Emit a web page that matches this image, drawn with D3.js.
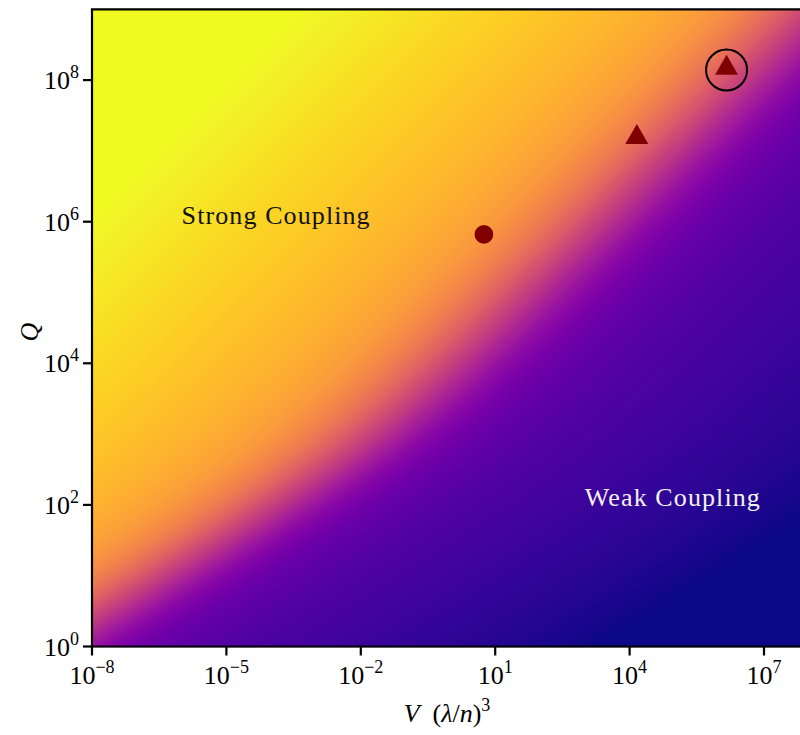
<!DOCTYPE html>
<html>
<head>
<meta charset="UTF-8">
<script src="https://d3js.org/d3.v7.min.js"></script>
<style>
  body { margin: 0; background: #fff; }
  svg text { font-family: "Liberation Serif", "DejaVu Serif", serif; }
</style>
</head>
<body>
<svg id="chart" width="800" height="735"></svg>
<script>
// tick values
const xTicks = [1e-8, 1e-5, 1e-2, 1e1, 1e4, 1e7];
const yTicks = [1e0, 1e2, 1e4, 1e6, 1e8];

// devices shown on the map
const pointV = [5.6, 1.45e4, 1.46e6];
const pointQ = [6.6e5, 1.55e7, 1.48e8];
const pointShape = ["circle", "triangle", "triangle"];
const pointHighlight = [false, false, true];

// labels of the two regions
const regionText = ["Strong Coupling", "Weak Coupling"];
const regionV = [1.0e-6, 1.0e3];
const regionQ = [1.25e6, 1.3e2];

const width = 800, height = 735;
const svg = d3.select("#chart");

const x = d3.scaleLog().domain([1e-8, 1e8]).range([92, 808.8]);
const y = d3.scaleLog().domain([1, 1e9]).range([646.5, 9.3]);

const color = d3.scaleSequential(d3.interpolatePlasma).domain([0, 1]);

// coupling map: contours bend (steeper at low Q), then squeezed into [0, 1]
function strength(v, q) {
  const lq = Math.log10(q), lv = Math.log10(v);
  const p = 1.6 * lq - 0.95 * 0.5 * Math.log(1 + Math.exp((2.8 - lq) / 0.5));
  const w = p - lv;
  const sig = 1 / (1 + Math.exp(-(w - 6.3) / 0.9));
  const lin = w < 6.3 ? 0.0162 * Math.max(0, w + 6) : 0.199 + 0.022 * (w - 6.3);
  return Math.max(0, Math.min(1, 0.55 * sig + lin));
}

// colour field, drawn on a canvas and put into the svg
const x0 = x.range()[0], x1 = x.range()[1];
const y0 = y.range()[1], y1 = y.range()[0];
const cw = Math.ceil(x1 - x0), ch = Math.ceil(y1 - y0);
const canvas = document.createElement("canvas");
canvas.width = cw; canvas.height = ch;
const ctx = canvas.getContext("2d");
const img = ctx.createImageData(cw, ch);
for (let j = 0; j < ch; j++) {
  const q = y.invert(y0 + j + 0.5);
  for (let i = 0; i < cw; i++) {
    const v = x.invert(x0 + i + 0.5);
    const c = d3.rgb(color(strength(v, q)));
    const k = (j * cw + i) * 4;
    img.data[k] = c.r; img.data[k + 1] = c.g; img.data[k + 2] = c.b; img.data[k + 3] = 255;
  }
}
ctx.putImageData(img, 0, 0);

svg.append("image")
  .attr("x", x0).attr("y", y0)
  .attr("width", cw).attr("height", ch)
  .attr("preserveAspectRatio", "none")
  .attr("href", canvas.toDataURL());

// region labels
svg.selectAll(".region")
  .data(regionText)
  .enter().append("text")
  .attr("class", "region")
  .attr("x", (d, i) => x(regionV[i]))
  .attr("y", (d, i) => y(regionQ[i]))
  .attr("dy", "0.35em")
  .attr("font-size", 26)
  .attr("letter-spacing", 1.1)
  .attr("fill", (d, i) => i === 0 ? "#111" : "#f2f2f2")
  .text(d => d);

// markers
const pts = pointV.map((v, i) => ({ v: v, q: pointQ[i], shape: pointShape[i], hi: pointHighlight[i] }));
const tri = d3.symbol().type(d3.symbolTriangle).size(230);

svg.selectAll(".pt")
  .data(pts)
  .enter().append("path")
  .attr("class", "pt")
  .attr("transform", d => `translate(${x(d.v)},${y(d.q)})`)
  .attr("d", d => d.shape === "circle" ? d3.symbol().type(d3.symbolCircle).size(275)() : tri())
  .attr("fill", "#800000");

svg.selectAll(".ring")
  .data(pts.filter(d => d.hi))
  .enter().append("circle")
  .attr("class", "ring")
  .attr("cx", d => x(d.v))
  .attr("cy", d => y(d.q) + 2)
  .attr("r", 20.5)
  .attr("fill", "none")
  .attr("stroke", "#000")
  .attr("stroke-width", 2);

// spines
svg.append("line").attr("x1", x0).attr("x2", x0).attr("y1", y0).attr("y2", y1)
  .attr("stroke", "#000").attr("stroke-width", 2.2);
svg.append("line").attr("x1", x0 - 1.1).attr("x2", width).attr("y1", y1).attr("y2", y1)
  .attr("stroke", "#000").attr("stroke-width", 2.2);
svg.append("line").attr("x1", x0 - 1.1).attr("x2", width).attr("y1", y0).attr("y2", y0)
  .attr("stroke", "#000").attr("stroke-width", 2.2);

// ticks with 10^n labels
function expOf(d) { return Math.round(Math.log10(d)); }

const xAxis = svg.append("g");
const xt = xAxis.selectAll("g").data(xTicks).enter().append("g")
  .attr("transform", d => `translate(${x(d)},${y1})`);
xt.append("line").attr("y1", 0).attr("y2", 9).attr("stroke", "#000").attr("stroke-width", 2.2);
const xl = xt.append("text").attr("y", 37).attr("text-anchor", "middle").attr("font-size", 26);
xl.append("tspan").text("10");
xl.append("tspan").attr("dy", -11).attr("font-size", 18)
  .text(d => String(expOf(d)).replace("-", "\u2212"));

const yAxis = svg.append("g");
const yt = yAxis.selectAll("g").data(yTicks).enter().append("g")
  .attr("transform", d => `translate(${x0},${y(d)})`);
yt.append("line").attr("x1", 0).attr("x2", -9).attr("stroke", "#000").attr("stroke-width", 2.2);
const yl = yt.append("text").attr("x", -13).attr("y", 9).attr("text-anchor", "end").attr("font-size", 26);
yl.append("tspan").text("10");
yl.append("tspan").attr("dy", -11).attr("font-size", 18).text(d => expOf(d));

// axis titles
const xTitle = svg.append("text").attr("x", 447).attr("y", 722)
  .attr("text-anchor", "middle").attr("font-size", 26);
xTitle.append("tspan").attr("font-style", "italic").text("V");
xTitle.append("tspan").text("\u2002(");
xTitle.append("tspan").attr("font-style", "italic").text("\u03bb");
xTitle.append("tspan").text("/");
xTitle.append("tspan").attr("font-style", "italic").text("n");
xTitle.append("tspan").text(")");
xTitle.append("tspan").attr("dy", -11).attr("font-size", 18).text("3");

svg.append("text")
  .attr("transform", "translate(38,332) rotate(-90)")
  .attr("text-anchor", "middle")
  .attr("font-size", 26)
  .attr("font-style", "italic")
  .text("Q");
</script>
</body>
</html>
